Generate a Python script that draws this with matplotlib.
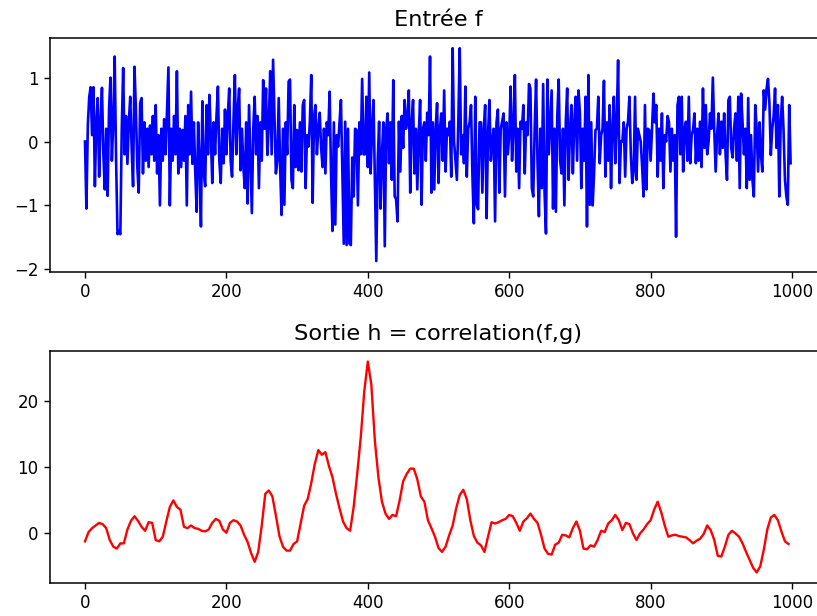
import numpy as np
import matplotlib
matplotlib.use("Agg")
import matplotlib.pyplot as plt

# ---- data ----
title_top = "Entrée f"
title_bottom = "Sortie h = correlation(f,g)"

# input signal f, sampled every 2 indices (i = 0, 2, ..., 998)
f_step = 2
f_values = [
    0.0, -1.05, 0.25, 0.7, 0.85,   0.1, 0.85, -0.7, 0.3, 0.68,
    -0.55, 0.3, 0.84, -0.2, -0.75,  0.2, -0.85, 0.5, 1.0, -0.3,
    0.3, 1.33, -0.3, -1.45, -1.4,   -1.45, 0.2, 1.15, -0.2, 0.4,
    -0.35, 0.3, 0.7, -0.1, -0.7,    1.17, 0.5, -0.4, -0.8, 0.6,
    0.68, -0.5, 0.3, -0.3, 0.2,     -0.4, 0.25, -0.2, 0.4, -0.3,
    0.57, -0.5, 0.1, -1.0, 0.2,     -0.3, 0.35, -0.2, 0.5, 1.16,
    -1.0, 0.2, -0.3, 0.4, -0.2,     1.1, -0.5, 0.2, -0.4, 0.18,
    -0.3, 0.4, -1.0, 0.57, -0.2,    0.78, -0.35, 0.3, -0.5, -1.1,
    0.3, -0.3, -1.33, 0.63, -0.5,   -0.7, 0.57, -0.2, 0.73, 0.1,
    -0.65, 0.3, -0.2, 0.4, 0.86,    -0.3, -0.65, 0.2, -0.34, 0.5,
    -0.2, 0.4, 0.83, -0.3, -0.55,   0.3, 1.04, -0.2, 0.5, 0.83,
    -0.45, 0.2, -0.4, -0.73, 0.3,   -0.97, 0.57, -0.3, -1.12, 0.2,
    0.7, -0.2, 0.4, -0.73, 0.3,     -0.3, 0.96, 0.2, 0.83, -0.21,
    0.3, 1.1, -0.2, 1.28, 0.4,      -0.5, -0.3, 0.68, -0.4, -1.15,
    0.2, -0.99, 0.3, -0.2, 0.94,    0.97, -0.6, -0.73, 0.57, -0.4,
    0.18, -0.45, 0.3, -0.47, 0.57,  0.65, -0.73, 0.1, -0.08, 0.3,
    1.04, -0.96, 0.4, 0.57, -0.2,   0.2, 0.45, -0.1, -0.4, 0.2,
    -0.5, 0.3, 0.1, 0.78, -0.5,     -1.4, 0.3, -1.3, 0.1, -0.08,
    0.3, 0.65, -0.5, -1.6, 0.31,    -1.62, 0.2, -1.6, -1.62, -0.25,
    -0.86, 0.2, 0.18, -1.0, 0.3,    -0.2, 0.98, -0.2, -0.2, 0.7,
    -0.4, 1.08, -0.5, 0.2, 0.65,    -0.6, -1.87, -0.3, 0.31, -1.05,
    -0.2, 0.3, -1.64, 0.2, 0.44,    -0.34, 0.3, -0.6, 0.96, -0.86,
    -0.9, -1.25, 0.31, -0.47, 0.4,  -0.1, 0.65, 0.2, 0.35, 0.8,
    -0.8, 0.3, 0.65, -0.5, 0.2,     -0.75, 0.1, 0.65, -0.99, 0.2,
    0.3, -0.3, 0.45, 0.1, 1.33,     -0.8, 0.3, -0.75, 0.2, 0.6,
    -0.65, 0.2, 0.44, -0.3, 0.8,    -0.47, 0.2, 0.1, 0.31, -0.55,
    1.46, 0.0, -0.3, -0.6, 0.3,     1.46, -0.2, 0.1, -0.34, 0.86,
    -0.55, 0.2, 0.3, 0.57, -0.55,   -1.28, 0.7, -0.99, -1.06, 0.3,
    0.3, -0.8, 0.2, 0.57, -1.2,     0.1, 0.65, -0.3, 0.0, 0.2,
    -1.25, 0.3, 0.5, -0.8, 0.2,     0.31, 0.44, -0.86, 0.3, -0.2,
    0.1, 0.86, -0.3, 0.2, 1.04,     -0.47, 0.2, -0.73, 0.31, 0.2,
    0.57, -0.5, 0.3, 0.1, 0.9,      0.83, -0.73, -0.86, 0.2, 0.97,
    -0.3, -1.17, 0.2, -0.73, 0.9,   -0.8, -1.44, 0.97, -0.2, 0.3,
    0.8, -1.05, 0.2, -1.1, 0.4,     0.97, -0.3, -0.5, 0.2, -1.0,
    0.3, 0.83, -0.6, 0.2, 0.57,     -0.5, 0.3, 0.7, -0.3, 0.8,
    0.44, -0.73, 0.2, -0.3, 0.7,    -1.33, 1.04, -0.99, 0.3, -1.0,
    -0.5, 0.18, 0.2, 0.7, -0.34,    0.1, 0.2, 0.95, -0.55, 0.3,
    -0.3, 0.57, -0.73, 0.2, 0.7,    -0.34, 0.3, 1.27, -0.65, 0.0,
    0.0, 0.3, -0.55, 0.2, 0.31,     0.7, -0.2, -0.65, -0.47, 0.7,
    -0.6, 0.2, 0.1, 0.0, -0.4,      -0.86, 0.57, -0.75, 0.2, 0.18,
    -0.3, 0.2, 0.75, 0.3, 0.57,     -0.55, 0.2, -0.3, 0.44, -0.73,
    0.1, 0.0, 0.4, 0.3, -0.47,      0.2, -0.3, 0.1, -1.49, 0.57,
    0.7, -0.2, 0.7, -0.47, 0.2,     0.31, -0.3, 0.7, -0.34, 0.1,
    0.18, 0.44, -0.34, 0.2, -0.3,   0.31, -0.4, 0.83, -0.1, 0.57,
    -0.2, 0.0, 0.44, 0.2, 1.0,      0.18, -0.47, 0.1, 0.44, -0.2,
    0.31, -0.1, 0.44, -0.2, -0.6,   0.65, 0.7, -0.1, -0.25, 0.2,
    0.44, -0.3, 0.7, -0.73, 0.75,   0.3, -0.2, 0.2, -0.73, 0.68,
    -0.6, 0.1, -0.6, -0.86, 0.57,   0.2, -0.47, 0.3, -0.2, -0.47,
    0.8, 0.5, 0.83, 0.98, 0.6,      -0.21, 0.2, 0.4, 0.83, -0.1,
    0.57, -0.86, 0.3, 0.7, 0.18,    -0.6, -0.86, -0.99, 0.57, -0.34,
]

# output h = correlation(f, g), sampled every 5 indices (i = 0, 5, ..., 995)
h_step = 5
h_values = [
    -1.2, 0.2, 0.8, 1.2, 1.6, 1.4, 0.8, -1.0, -2.0, -2.3,
    -1.5, -1.5, 0.6, 1.9, 2.6, 1.9, 1.0, 0.4, 1.7, 1.6,
    -1.0, -1.2, -0.5, 1.8, 4.0, 5.0, 4.0, 3.6, 1.0, 0.8,
    1.2, 0.8, 0.7, 0.4, 0.3, 0.6, 1.6, 2.2, 1.9, 0.6,
    0.1, 1.6, 2.0, 1.8, 1.2, -0.2, -1.3, -3.0, -4.3, -2.8,
    1.2, 6.0, 6.5, 5.6, 2.7, -0.4, -2.0, -2.6, -2.6, -1.6,
    -1.2, 1.5, 4.2, 5.2, 7.6, 10.5, 12.6, 11.9, 12.3, 10.2,
    8.5, 6.0, 3.8, 1.8, 0.8, 0.4, 4.0, 9.0, 14.5, 21.5,
    26.0, 22.5, 14.0, 8.5, 4.8, 3.0, 2.2, 2.8, 2.6, 5.0,
    7.9, 9.0, 9.8, 9.8, 8.2, 5.6, 4.8, 2.0, 0.8, -0.5,
    -2.2, -2.8, -2.0, -0.3, 1.2, 3.8, 5.8, 6.6, 5.2, 2.0,
    -0.4, -1.4, -1.8, -2.8, -0.5, 1.7, 1.5, 1.7, 2.0, 2.2,
    2.8, 2.6, 1.6, 0.4, 1.8, 2.3, 3.0, 2.2, 1.6, -0.2,
    -2.3, -3.1, -3.2, -1.7, -1.4, -0.2, -0.3, -0.6, 0.8, 1.8,
    0.4, -2.3, -2.4, -1.8, -2.0, -1.0, 0.4, 0.2, 1.5, 2.0,
    2.8, 2.0, 0.5, 1.6, 1.4, 0.0, -1.0, 0.0, 0.6, 1.4,
    2.0, 3.6, 4.8, 3.2, 1.2, -0.5, -0.3, -0.2, -0.4, -0.5,
    -0.6, -1.0, -1.5, -1.1, -0.8, -0.1, 1.2, 0.5, -1.0, -3.4,
    -3.5, -2.0, -0.2, 0.4, 0.0, -0.5, -1.5, -2.8, -4.0, -5.2,
    -5.9, -5.0, -2.5, 0.6, 2.4, 2.8, 2.0, 0.3, -1.2, -1.6,
]

f_x = np.arange(len(f_values)) * f_step
h_x = np.arange(len(h_values)) * h_step

# ---- figure ----
fig = plt.figure(figsize=(8.17, 6.16), dpi=100)
ax1 = fig.add_axes([0.0608, 0.559, 0.951, 0.380])
ax2 = fig.add_axes([0.0608, 0.0536, 0.951, 0.3766])

ax1.plot(f_x, f_values, color="b", linewidth=1.9)
ax2.plot(h_x, h_values, color="r", linewidth=1.7)

ax1.set_title(title_top, fontsize=16.2, pad=8)
ax2.set_title(title_bottom, fontsize=16.2, pad=8)

for ax in (ax1, ax2):
    ax.set_xticks([0, 200, 400, 600, 800, 1000])
    ax.tick_params(labelsize=12, length=4.5, width=1.0)
    for s in ax.spines.values():
        s.set_linewidth(1.1)
    ax.set_xlim(-49.95, 1048.95)

ax1.set_yticks([-2, -1, 0, 1])
ax2.set_yticks([0, 10, 20])

fig.savefig("out.png", dpi=100)
